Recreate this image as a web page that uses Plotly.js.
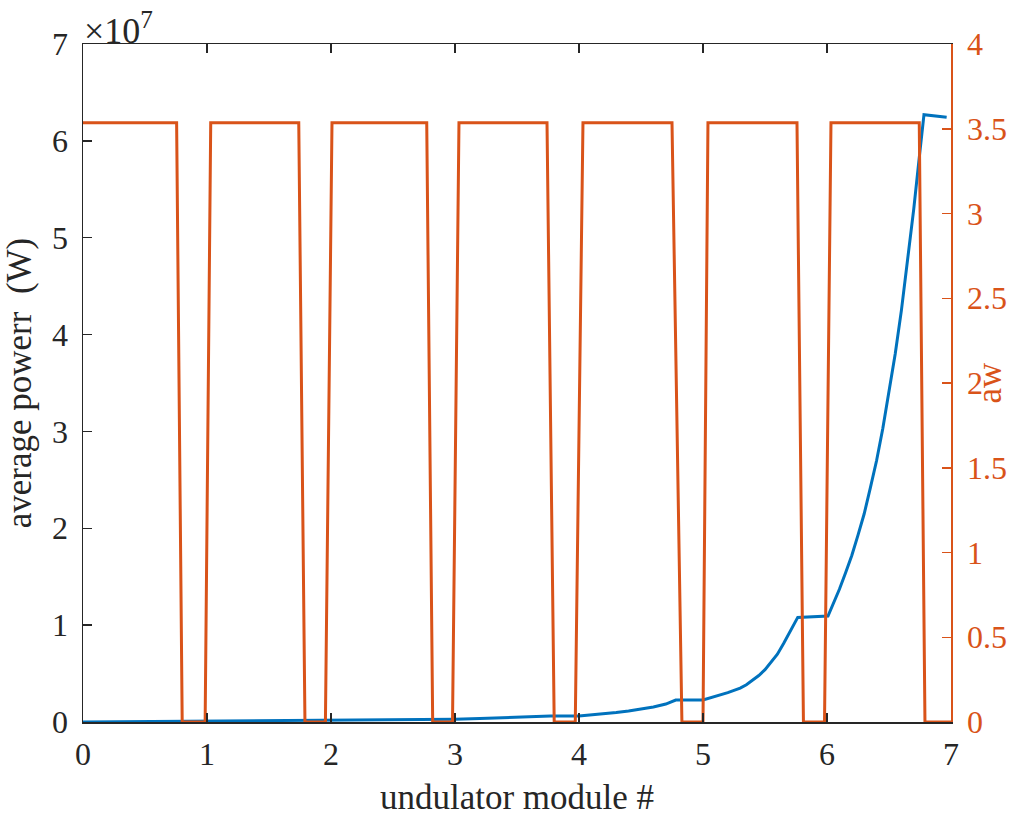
<!DOCTYPE html>
<html>
<head>
<meta charset="utf-8">
<script src="https://cdn.plot.ly/plotly-3.0.1.min.js"></script>
<style>html,body{margin:0;padding:0;background:#fff;}#chart{width:1009px;height:820px;}</style>
</head>
<body>
<div id="chart"></div>
<script>
// undulator module position
const powerX = [0, 0.2, 0.4, 0.6, 0.77, 1.0, 1.2, 1.4, 1.6, 1.76, 2.0, 2.2, 2.4, 2.6, 2.78, 3.0, 3.2, 3.4, 3.6, 3.77, 4.0, 4.1, 4.2, 4.3, 4.4, 4.5, 4.6, 4.7, 4.78, 5.0, 5.05, 5.1, 5.15, 5.2, 5.25, 5.3, 5.35, 5.4, 5.45, 5.5, 5.56, 5.6, 5.65, 5.7, 5.735, 5.764, 6.008, 6.05, 6.1, 6.15, 6.2, 6.25, 6.3, 6.35, 6.4, 6.45, 6.5, 6.55, 6.6, 6.65, 6.7, 6.74, 6.782, 6.965];
// average power in units of 1e7 W
const powerE7 = [0.000, 0.002, 0.003, 0.005, 0.007, 0.007, 0.009, 0.011, 0.013, 0.015, 0.015, 0.018, 0.021, 0.025, 0.029, 0.029, 0.035, 0.042, 0.051, 0.062, 0.062, 0.072, 0.084, 0.098, 0.114, 0.133, 0.155, 0.185, 0.227, 0.227, 0.245, 0.262, 0.282, 0.303, 0.326, 0.35, 0.385, 0.43, 0.48, 0.54, 0.63, 0.70, 0.81, 0.93, 1.01, 1.08, 1.094, 1.22, 1.37, 1.54, 1.72, 1.93, 2.15, 2.42, 2.7, 3.03, 3.4, 3.8, 4.25, 4.75, 5.3, 5.78, 6.27, 6.243];
// undulator parameter aw
const awX = [0, 0.755, 0.80, 0.985, 1.03, 1.74, 1.79, 1.955, 2.008, 2.772, 2.82, 2.98, 3.032, 3.742, 3.80, 3.97, 4.032, 4.75, 4.83, 5.0, 5.04, 5.758, 5.81, 5.98, 6.032, 6.744, 6.79, 7.0];
const awY = [3.535, 3.535, 0, 0, 3.535, 3.535, 0, 0, 3.535, 3.535, 0, 0, 3.535, 3.535, 0, 0, 3.535, 3.535, 0, 0, 3.535, 3.535, 0, 0, 3.535, 3.535, 0, 0];
const leftTicks = [0, 1, 2, 3, 4, 5, 6, 7];
const leftTickText = ['0', '1', '2', '3', '4', '5', '6', '7'];
const rightTicks = [0, 0.5, 1, 1.5, 2, 2.5, 3, 3.5, 4];
const rightTickText = ['0', '0.5', '1', '1.5', '2', '2.5', '3', '3.5', '4'];
const xTicks = [0, 1, 2, 3, 4, 5, 6, 7];

const blue = '#0072BD';
const orange = '#D95319';
const dark = '#262626';
const font = '"Liberation Serif", "Times New Roman", Times, serif';

const traces = [
  {x: powerX, y: powerE7, type: 'scatter', mode: 'lines', line: {color: blue, width: 3}, yaxis: 'y', hoverinfo: 'none'},
  {x: awX, y: awY, type: 'scatter', mode: 'lines', line: {color: orange, width: 3}, yaxis: 'y2', hoverinfo: 'none'}
];

const layout = {
  width: 1009, height: 820,
  margin: {l: 83, r: 58, t: 44, b: 98},
  paper_bgcolor: '#fff', plot_bgcolor: '#fff',
  showlegend: false,
  font: {family: font, size: 32, color: dark},
  xaxis: {
    range: [0, 7], tickvals: xTicks, ticktext: xTicks.map(String),
    showgrid: false, zeroline: false,
    showline: true, linecolor: dark, linewidth: 1.5, mirror: 'ticks',
    ticks: 'inside', ticklen: 9, tickwidth: 1.5, tickcolor: dark,
    ticklabelstandoff: 3,
    tickfont: {family: font, size: 32, color: dark},
    title: {text: 'undulator module #', font: {family: font, size: 35, color: dark}, standoff: 13}
  },
  yaxis: {
    range: [0, 7], tickvals: leftTicks, ticktext: leftTickText,
    showgrid: false, zeroline: false,
    showline: true, linecolor: dark, linewidth: 1.5,
    ticks: 'inside', ticklen: 9, tickwidth: 1.5, tickcolor: dark,
    ticklabelstandoff: 7,
    tickfont: {family: font, size: 32, color: dark},
    title: {text: 'average powerr  (W)', font: {family: font, size: 35, color: dark}, standoff: 10}
  },
  yaxis2: {
    range: [0, 4], tickvals: rightTicks, ticktext: rightTickText,
    overlaying: 'y', side: 'right',
    showgrid: false, zeroline: false,
    showline: true, linecolor: orange, linewidth: 1.5,
    ticks: 'inside', ticklen: 9, tickwidth: 1.5, tickcolor: orange,
    ticklabelstandoff: 8,
    tickfont: {family: font, size: 32, color: orange},
    title: {text: 'aw', font: {family: font, size: 35, color: orange}, standoff: 8}
  },
  annotations: [{
    xref: 'paper', yref: 'paper', x: 0, y: 1, xanchor: 'left', yanchor: 'bottom',
    text: '×10<sup>7</sup>', showarrow: false, font: {family: font, size: 36, color: dark}, yshift: -9, xshift: -1
  }]
};

Plotly.newPlot('chart', traces, layout, {displayModeBar: false, staticPlot: true});
</script>
</body>
</html>
